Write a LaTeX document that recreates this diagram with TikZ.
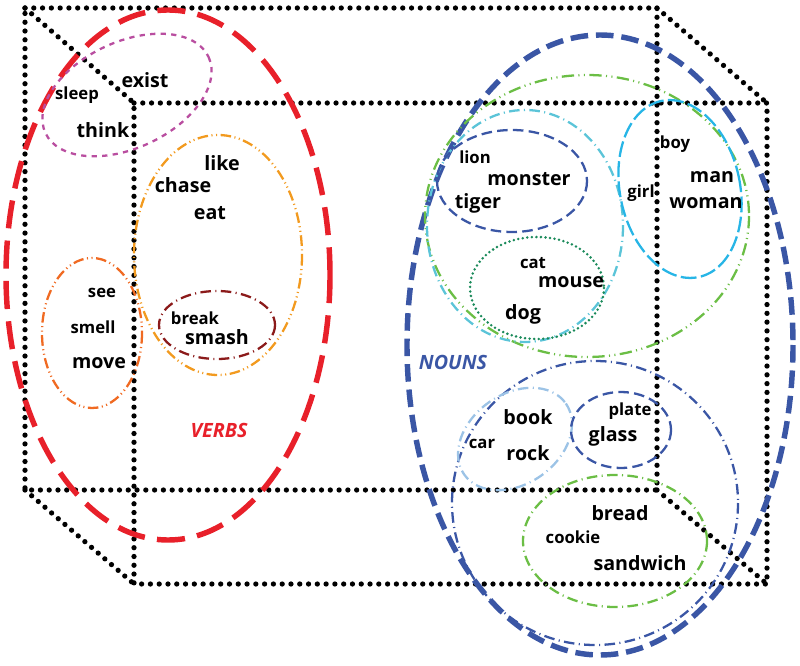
\documentclass[tikz,border=0pt]{standalone}
\usepackage{fontspec}
\setmainfont{Open Sans}
\definecolor{verbred}{HTML}{E8202A}
\definecolor{nounblue}{HTML}{3A56A5}
\definecolor{lilac}{HTML}{B94EA0}
\definecolor{amber}{HTML}{F29A1F}
\definecolor{rust}{HTML}{F06A22}
\definecolor{maroon}{HTML}{8B1A1A}
\definecolor{leaf}{HTML}{6BBE45}
\definecolor{aqua}{HTML}{5BC4D8}
\definecolor{pine}{HTML}{1A8A5A}
\definecolor{sky}{HTML}{27B5E6}
\definecolor{paleblue}{HTML}{9CC3E6}
\tikzset{
  cubeedge/.style={line width=3pt, line cap=round, dash pattern=on 0pt off 5pt},
  bigring/.style={line width=3.1pt},
  ring/.style={line width=1.3pt},
  dashdot/.style={dash pattern=on 6pt off 2.5pt on 0.6pt off 2.5pt},
  dashdotdot/.style={dash pattern=on 6pt off 2pt on 0.6pt off 2pt on 0.6pt off 2pt},
  word/.style={font=\fontsize{9.5}{10}\selectfont\bfseries, inner sep=0pt},
  bigword/.style={font=\fontsize{11.2}{12}\selectfont\bfseries, inner sep=0pt},
  classname/.style={font=\fontsize{11.2}{12}\selectfont\bfseries\itshape, inner sep=0pt}
}
\begin{document}
\begin{tikzpicture}[x=0.02cm, y=-0.02cm]
            \useasboundingbox (0,0) rectangle (800,665);
            %Cube
            \coordinate (a1) at (25,8);
            \coordinate (a2) at (657,8);
            \coordinate (a3) at (657,490);
            \coordinate (a4) at (25,490);
            \coordinate (b1) at (134,103);
            \coordinate (b2) at (767,103);
            \coordinate (b3) at (767,584);
            \coordinate (b4) at (134,584);
            \draw[cubeedge] (a1) -- (a2) -- (a3) -- (a4) -- cycle;
            \draw[cubeedge] (b1) -- (b2) -- (b3) -- (b4) -- cycle;
            \draw[cubeedge] (a1) -- (b1);
            \draw[cubeedge] (a2) -- (b2);
            \draw[cubeedge] (a3) -- (b3);
            \draw[cubeedge] (a4) -- (b4);

            %Verb rings
            \draw[bigring, verbred, dash pattern=on 16pt off 7pt] (168,275) ellipse [x radius=162, y radius=265];
            \draw[ring, lilac, dashed, rotate around={25:(127,95)}] (127,95) ellipse [x radius=90, y radius=53];
            \draw[ring, amber, dashdotdot] (218,255) ellipse [x radius=84, y radius=120];
            \draw[ring, maroon, dashdot] (217,325) ellipse [x radius=58, y radius=34];
            \draw[ring, rust, dashdotdot] (92,333) ellipse [x radius=50, y radius=75];

            %Noun rings
            \draw[bigring, nounblue, dash pattern=on 10pt off 4.5pt] (600,345) ellipse [x radius=193, y radius=310];
            \draw[ring, leaf, dash pattern=on 7pt off 2.5pt on 0.6pt off 2.5pt on 0.6pt off 2.5pt] (587,216) ellipse [x radius=162, y radius=141];
            \draw[ring, aqua, dashdot] (525,226) ellipse [x radius=98, y radius=116];
            \draw[ring, nounblue, dash pattern=on 6pt off 3pt] (512,181) ellipse [x radius=75, y radius=51];
            \draw[ring, pine, line width=1.6pt, line cap=round, dash pattern=on 0pt off 2.6pt] (537,288) ellipse [x radius=67, y radius=51];
            \draw[ring, sky, dash pattern=on 9pt off 2.5pt, rotate around={12:(680,189)}] (680,189) ellipse [x radius=60, y radius=90];
            \draw[ring, nounblue, dashdot] (595,503) ellipse [x radius=143, y radius=142];
            \draw[ring, paleblue, dashdot, rotate around={35:(515,439)}] (515,439) ellipse [x radius=62, y radius=45];
            \draw[ring, nounblue, dash pattern=on 6pt off 3pt] (621,430) ellipse [x radius=50, y radius=38];
            \draw[ring, leaf, dashdot] (615,541) ellipse [x radius=92, y radius=66];

            %Words
            \node[bigword] (exist) at (145,80)  {exist};
            \node[word]    (sleep) at (77,95)   {sleep};
            \node[bigword] (think) at (103,130) {think};
            \node[bigword] (like)  at (222,163) {like};
            \node[bigword] (chase) at (183,185) {chase};
            \node[bigword] (eat)   at (210,213) {eat};
            \node[word]    (see)   at (102,293) {see};
            \node[word]    (smell) at (93,327)  {smell};
            \node[bigword] (move)  at (99,363)  {move};
            \node[word]    (break) at (195,318) {break};
            \node[bigword] (smash) at (217,337) {smash};
            \node[classname, verbred] (verbs) at (219,430) {VERBS};

            \node[word]    (lion)    at (475,157) {lion};
            \node[bigword] (monster) at (529,179) {monster};
            \node[bigword] (tiger)   at (478,203) {tiger};
            \node[word]    (cat)     at (533,263) {cat};
            \node[bigword] (mouse)   at (571,282) {mouse};
            \node[bigword] (dog)     at (523,314) {dog};
            \node[word]    (boy)     at (675,144) {boy};
            \node[word]    (girl)    at (641,193) {girl};
            \node[bigword] (man)     at (712,177) {man};
            \node[bigword] (woman)   at (706,203) {woman};
            \node[classname, nounblue] (nouns) at (453,362) {NOUNS};

            \node[bigword] (book)     at (528,417) {book};
            \node[word]    (car)      at (482,444) {car};
            \node[bigword] (rock)     at (528,453) {rock};
            \node[word]    (plate)    at (630,411) {plate};
            \node[bigword] (glass)    at (613,436) {glass};
            \node[bigword] (bread)    at (620,513) {bread};
            \node[word]    (cookie)   at (573,537) {cookie};
            \node[bigword] (sandwich) at (640,563) {sandwich};
\end{tikzpicture}
\end{document}
